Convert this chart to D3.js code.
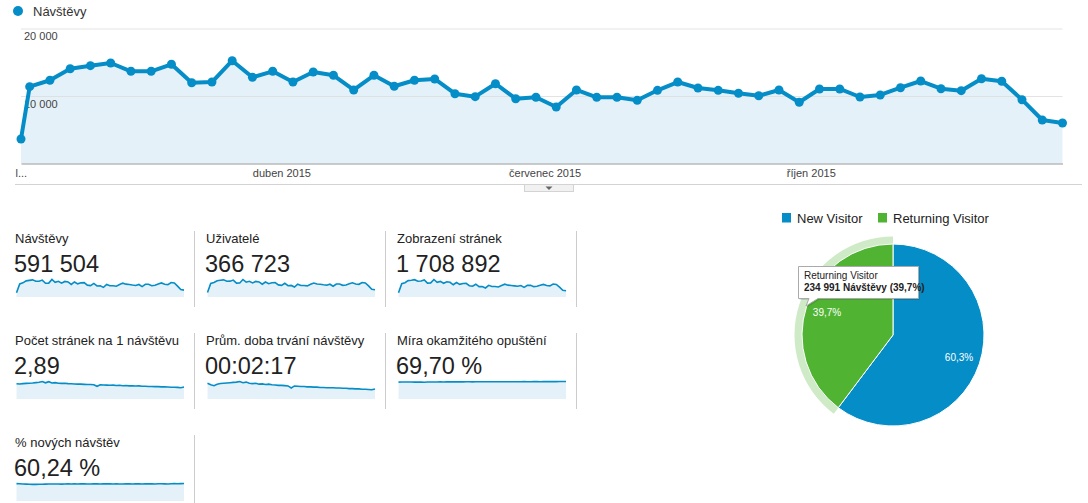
<!DOCTYPE html>
<html>
<head>
<meta charset="utf-8">
<script src="https://cdn.jsdelivr.net/npm/d3@7"></script>
<style>
body { margin: 0; background: #fff; font-family: Arial, "Liberation Sans", sans-serif; }
.axis text { font-size: 11px; fill: #444; }
</style>
</head>
<body>
<script>
// data
var seriesName = "Návštěvy";
var visits = [3630, 11380, 12330, 14040, 14490, 14890, 13660, 13660, 14700, 11970,
    12070, 15230, 12770, 13660, 12070, 13560, 13070, 10890, 13070, 11440,
    12330, 12520, 10340, 9900, 11820, 9600, 9810, 8370, 10890, 9810,
    9810, 9360, 10840, 12070, 11190, 10840, 10400, 10040, 10890, 9070,
    11040, 11040, 9850, 10150, 11230, 12220, 11080, 10790, 12560, 12180,
    9450, 6440, 6000];
var users = [2450, 7300, 7800, 8800, 9050, 9250, 8500, 8550, 9150, 7500,
    7600, 9450, 8000, 8500, 7600, 8450, 8150, 6900, 8100, 7200,
    7700, 7800, 6550, 6300, 7400, 6100, 6250, 5400, 6900, 6250,
    6250, 6000, 6850, 7550, 7000, 6850, 6600, 6400, 6900, 5800,
    7000, 7000, 6300, 6450, 7100, 7650, 7000, 6850, 7850, 7600,
    6000, 4150, 3900];
var pageviews = [11000, 35500, 38000, 43500, 44500, 46000, 42000, 42500, 45500, 37000,
    37500, 46500, 39000, 41500, 36500, 40500, 39000, 32500, 38500, 33500,
    36000, 36500, 30000, 28500, 34000, 27500, 28000, 24000, 31000, 28000,
    28000, 26500, 30500, 34000, 31500, 30500, 29500, 28500, 30500, 25500,
    31000, 31000, 27500, 28500, 31000, 33500, 30500, 29500, 34500, 33500,
    26000, 18000, 16500];
var pagesPerVisit = [3.00, 2.99, 3.01, 3.02, 3.03, 3.04, 3.06, 3.08, 3.12, 3.05,
    3.11, 3.04, 3.06, 3.03, 3.02, 3.03, 3.01, 3.00, 2.99, 2.98,
    2.98, 2.97, 2.96, 2.96, 2.95, 2.87, 2.95, 2.94, 2.93, 2.92,
    2.93, 2.91, 2.92, 2.90, 2.91, 2.89, 2.90, 2.88, 2.89, 2.87,
    2.87, 2.86, 2.86, 2.85, 2.85, 2.84, 2.84, 2.83, 2.82, 2.82,
    2.81, 2.79, 2.83];
var avgDuration = [148, 143, 140, 145, 147, 148, 149, 150, 151, 152,
    154, 150, 152, 148, 147, 148, 145, 146, 144, 145,
    143, 142, 141, 141, 140, 139, 132, 139, 138, 137,
    137, 136, 136, 135, 135, 134, 134, 133, 133, 133,
    132, 132, 131, 131, 130, 130, 129, 129, 128, 128,
    127, 126, 129];
var bounceRate = [68.5, 68.9, 69.1, 69.0, 68.8, 68.6, 68.7, 68.5, 67.9, 69.0,
    68.8, 69.2, 69.3, 69.4, 69.2, 69.5, 69.6, 69.4, 69.5, 69.7,
    69.6, 69.8, 69.9, 69.7, 69.8, 70.0, 69.9, 70.1, 69.8, 70.0,
    70.1, 70.0, 70.2, 70.1, 70.0, 70.2, 70.3, 70.1, 70.2, 70.4,
    70.3, 70.2, 70.5, 70.4, 70.3, 70.5, 70.6, 70.5, 70.6, 70.7,
    70.8, 71.0, 71.1];
var newVisitsPct = [61.5, 60.8, 60.2, 59.5, 58.9, 58.6, 58.8, 59.2, 59.0, 59.6,
    60.1, 59.8, 60.2, 60.0, 59.7, 60.3, 60.4, 60.1, 60.5, 60.2,
    60.6, 60.4, 60.0, 60.3, 60.7, 60.5, 60.2, 60.6, 60.9, 60.4,
    60.1, 60.5, 60.3, 60.0, 60.4, 60.6, 60.2, 60.5, 60.8, 60.3,
    60.6, 60.9, 60.5, 60.2, 60.7, 61.0, 60.6, 60.3, 60.8, 61.2,
    60.9, 61.4, 61.8];

var monthTickDates = [new Date(2015, 0, 1), new Date(2015, 3, 1), new Date(2015, 6, 1), new Date(2015, 9, 1)];
var monthTickLabels = ["l...", "duben 2015", "červenec 2015", "říjen 2015"];
var yTicks = [10000, 20000];

var metricNames = ["Návštěvy", "Uživatelé", "Zobrazení stránek", "Počet stránek na 1 návštěvu",
    "Prům. doba trvání návštěvy", "Míra okamžitého opuštění", "% nových návštěv"];
var metricTotals = ["591 504", "366 723", "1 708 892", "2,89", "00:02:17", "69,70 %", "60,24 %"];
var sparkSeries = [visits, users, pageviews, pagesPerVisit, avgDuration, bounceRate, newVisitsPct];
var sparkFloor = [0, 0, 0, 2.2, 95, 0, 0];

var visitorTypes = ["New Visitor", "Returning Visitor"];
var visitorCounts = [356513, 234991];

// weeks: first partial week starts 1. 1., then every Sunday
var dates = [new Date(2015, 0, 1)].concat(d3.timeWeek.range(new Date(2015, 0, 4), new Date(2015, 11, 28)));

var blue = "#058dc7";
var green = "#50b432";
var cz = d3.formatLocale({decimal: ",", thousands: "\u00a0", grouping: [3], currency: ["", " Kč"]});

var width = 1088;
var height = 503;

var svg = d3.select("body")
    .append("svg")
    .attr("width", width)
    .attr("height", height)
    .style("display", "block");

// ---- main chart ----
var x = d3.scaleTime()
    .domain([dates[0], dates[dates.length - 1]])
    .range([21, 1062.5]);

var y = d3.scaleLinear()
    .domain([0, 20000])
    .range([163.5, 28.5]);

// legend
svg.append("circle")
    .attr("cx", 18)
    .attr("cy", 11)
    .attr("r", 5)
    .attr("fill", blue);
svg.append("text")
    .attr("x", 33)
    .attr("y", 16)
    .attr("font-size", 13)
    .attr("fill", "#333")
    .text(seriesName);

var area = d3.area()
    .x(function(d, i) { return x(dates[i]); })
    .y0(y(0))
    .y1(function(d) { return y(d); });

var line = d3.line()
    .x(function(d, i) { return x(dates[i]); })
    .y(function(d) { return y(d); });

svg.append("path")
    .datum(visits)
    .attr("d", area)
    .attr("fill", "#e5f1f9");

var yAxis = svg.append("g")
    .attr("class", "axis")
    .attr("transform", "translate(21,0)")
    .call(d3.axisRight(y)
        .tickValues(yTicks)
        .tickSize(x.range()[1] - x.range()[0])
        .tickFormat(function(d) { return cz.format(",")(d); }));
yAxis.select(".domain").remove();
yAxis.selectAll(".tick line").attr("stroke", "#dcdcdc").attr("stroke-opacity", 0.8);
yAxis.selectAll(".tick text")
    .attr("x", 3)
    .attr("dy", 11)
    .attr("text-anchor", "start");

var xAxis = svg.append("g")
    .attr("class", "axis")
    .attr("transform", "translate(0," + y(0) + ")")
    .call(d3.axisBottom(x)
        .tickValues(monthTickDates)
        .tickSize(0)
        .tickPadding(6)
        .tickFormat(function(d, i) { return monthTickLabels[i]; }));
xAxis.select(".domain").attr("stroke", "#999");
xAxis.selectAll(".tick text")
    .filter(function(d, i) { return i == 0; })
    .attr("text-anchor", "start")
    .attr("x", -6);

svg.append("path")
    .datum(visits)
    .attr("d", line)
    .attr("fill", "none")
    .attr("stroke", blue)
    .attr("stroke-width", 4)
    .attr("stroke-linejoin", "round");

svg.selectAll(".dot")
    .data(visits)
    .enter()
    .append("circle")
    .attr("class", "dot")
    .attr("cx", function(d, i) { return x(dates[i]); })
    .attr("cy", function(d) { return y(d); })
    .attr("r", 4.5)
    .attr("fill", blue);

// divider with the little tab
svg.append("line")
    .attr("x1", 15).attr("x2", 1082)
    .attr("y1", 184.5).attr("y2", 184.5)
    .attr("stroke", "#d3d3d3");
svg.append("rect")
    .attr("x", 524.5).attr("y", 184.5)
    .attr("width", 49).attr("height", 7)
    .attr("fill", "#f1f1f1")
    .attr("stroke", "#d3d3d3");
svg.append("path")
    .attr("d", "M545.5,186.5 L552.5,186.5 L549,190 Z")
    .attr("fill", "#666");

// ---- metric panels ----
var colW = 191;
var rowH = 102;

var panel = svg.selectAll(".panel")
    .data(metricNames)
    .enter()
    .append("g")
    .attr("class", "panel")
    .attr("transform", function(d, i) {
        return "translate(" + (i % 3) * colW + "," + Math.floor(i / 3) * rowH + ")";
    });

panel.append("line")
    .attr("x1", 194.5).attr("x2", 194.5)
    .attr("y1", 231)
    .attr("y2", function(d, i) { return i == 6 ? 310 : 307; })
    .attr("stroke", "#ccc");

panel.append("text")
    .attr("x", 15)
    .attr("y", 243)
    .attr("font-size", 13)
    .attr("fill", "#222")
    .text(function(d) { return d; });

panel.append("text")
    .attr("x", 14)
    .attr("y", 272)
    .attr("font-size", 23.5)
    .attr("fill", "#222")
    .text(function(d, i) { return metricTotals[i]; });

panel.each(function(d, i) {
    var data = sparkSeries[i];
    var sx = d3.scaleLinear().domain([0, data.length - 1]).range([16.5, 184]);
    var sy = d3.scaleLinear().domain([sparkFloor[i], d3.max(data)]).range([297, 279.5]);
    var g = d3.select(this);
    g.append("path")
        .datum(data)
        .attr("d", d3.area()
            .x(function(v, j) { return sx(j); })
            .y0(297)
            .y1(function(v) { return sy(v); }))
        .attr("fill", "#e5f1f9");
    g.append("path")
        .datum(data)
        .attr("d", d3.line()
            .x(function(v, j) { return sx(j); })
            .y(function(v) { return sy(v); }))
        .attr("fill", "none")
        .attr("stroke", blue)
        .attr("stroke-width", 1.6);
});

// ---- pie ----
var total = d3.sum(visitorCounts);
var pieColors = [blue, green];

var legend = svg.selectAll(".pielegend")
    .data(visitorTypes)
    .enter()
    .append("g")
    .attr("class", "pielegend")
    .attr("transform", function(d, i) { return "translate(" + (i == 0 ? 782 : 878) + ",213)"; });
legend.append("rect")
    .attr("width", 9)
    .attr("height", 9.5)
    .attr("fill", function(d, i) { return pieColors[i]; });
legend.append("text")
    .attr("x", 15)
    .attr("y", 9.7)
    .attr("font-size", 13)
    .attr("fill", "#222")
    .text(function(d) { return d; });

var pie = d3.pie().sort(null);
var arcs = pie(visitorCounts);
var radius = 91;
var arc = d3.arc().innerRadius(0).outerRadius(radius);
var halo = d3.arc().innerRadius(radius).outerRadius(radius + 7.5);
var labelArc = d3.arc().innerRadius(69.6).outerRadius(69.6);

var pieG = svg.append("g")
    .attr("transform", "translate(893,335)");

pieG.append("path")
    .attr("d", halo(arcs[1]))
    .attr("fill", green)
    .attr("opacity", 0.28);

pieG.selectAll(".slice")
    .data(arcs)
    .enter()
    .append("path")
    .attr("class", "slice")
    .attr("d", arc)
    .attr("fill", function(d, i) { return pieColors[i]; })
    .attr("stroke", "#fff")
    .attr("stroke-width", 1);

pieG.selectAll(".plabel")
    .data(arcs)
    .enter()
    .append("text")
    .attr("class", "plabel")
    .attr("transform", function(d) { return "translate(" + labelArc.centroid(d) + ")"; })
    .attr("dy", 3.5)
    .attr("text-anchor", "middle")
    .attr("font-size", 10)
    .attr("fill", "#fff")
    .text(function(d) { return cz.format(".1%")(d.value / total); });

// tooltip for returning visitors
var tip = svg.append("g");
var tipPath = "M798.5,266.5 H918.5 V298.5 H818 L806,306 L809,298.5 H798.5 Z";
tip.append("path")
    .attr("d", tipPath)
    .attr("transform", "translate(1,1.5)")
    .attr("fill", "rgba(0,0,0,0.12)");
tip.append("path")
    .attr("d", tipPath)
    .attr("fill", "#fff")
    .attr("stroke", "#aaa");
tip.append("text")
    .attr("x", 804)
    .attr("y", 279)
    .attr("font-size", 10)
    .attr("fill", "#222")
    .text(visitorTypes[1]);
tip.append("text")
    .attr("x", 804)
    .attr("y", 290.5)
    .attr("font-size", 10)
    .attr("font-weight", "bold")
    .attr("fill", "#222")
    .text(cz.format(",")(visitorCounts[1]) + " " + seriesName + " (" + cz.format(".1%")(visitorCounts[1] / total) + ")");
</script>
</body>
</html>
